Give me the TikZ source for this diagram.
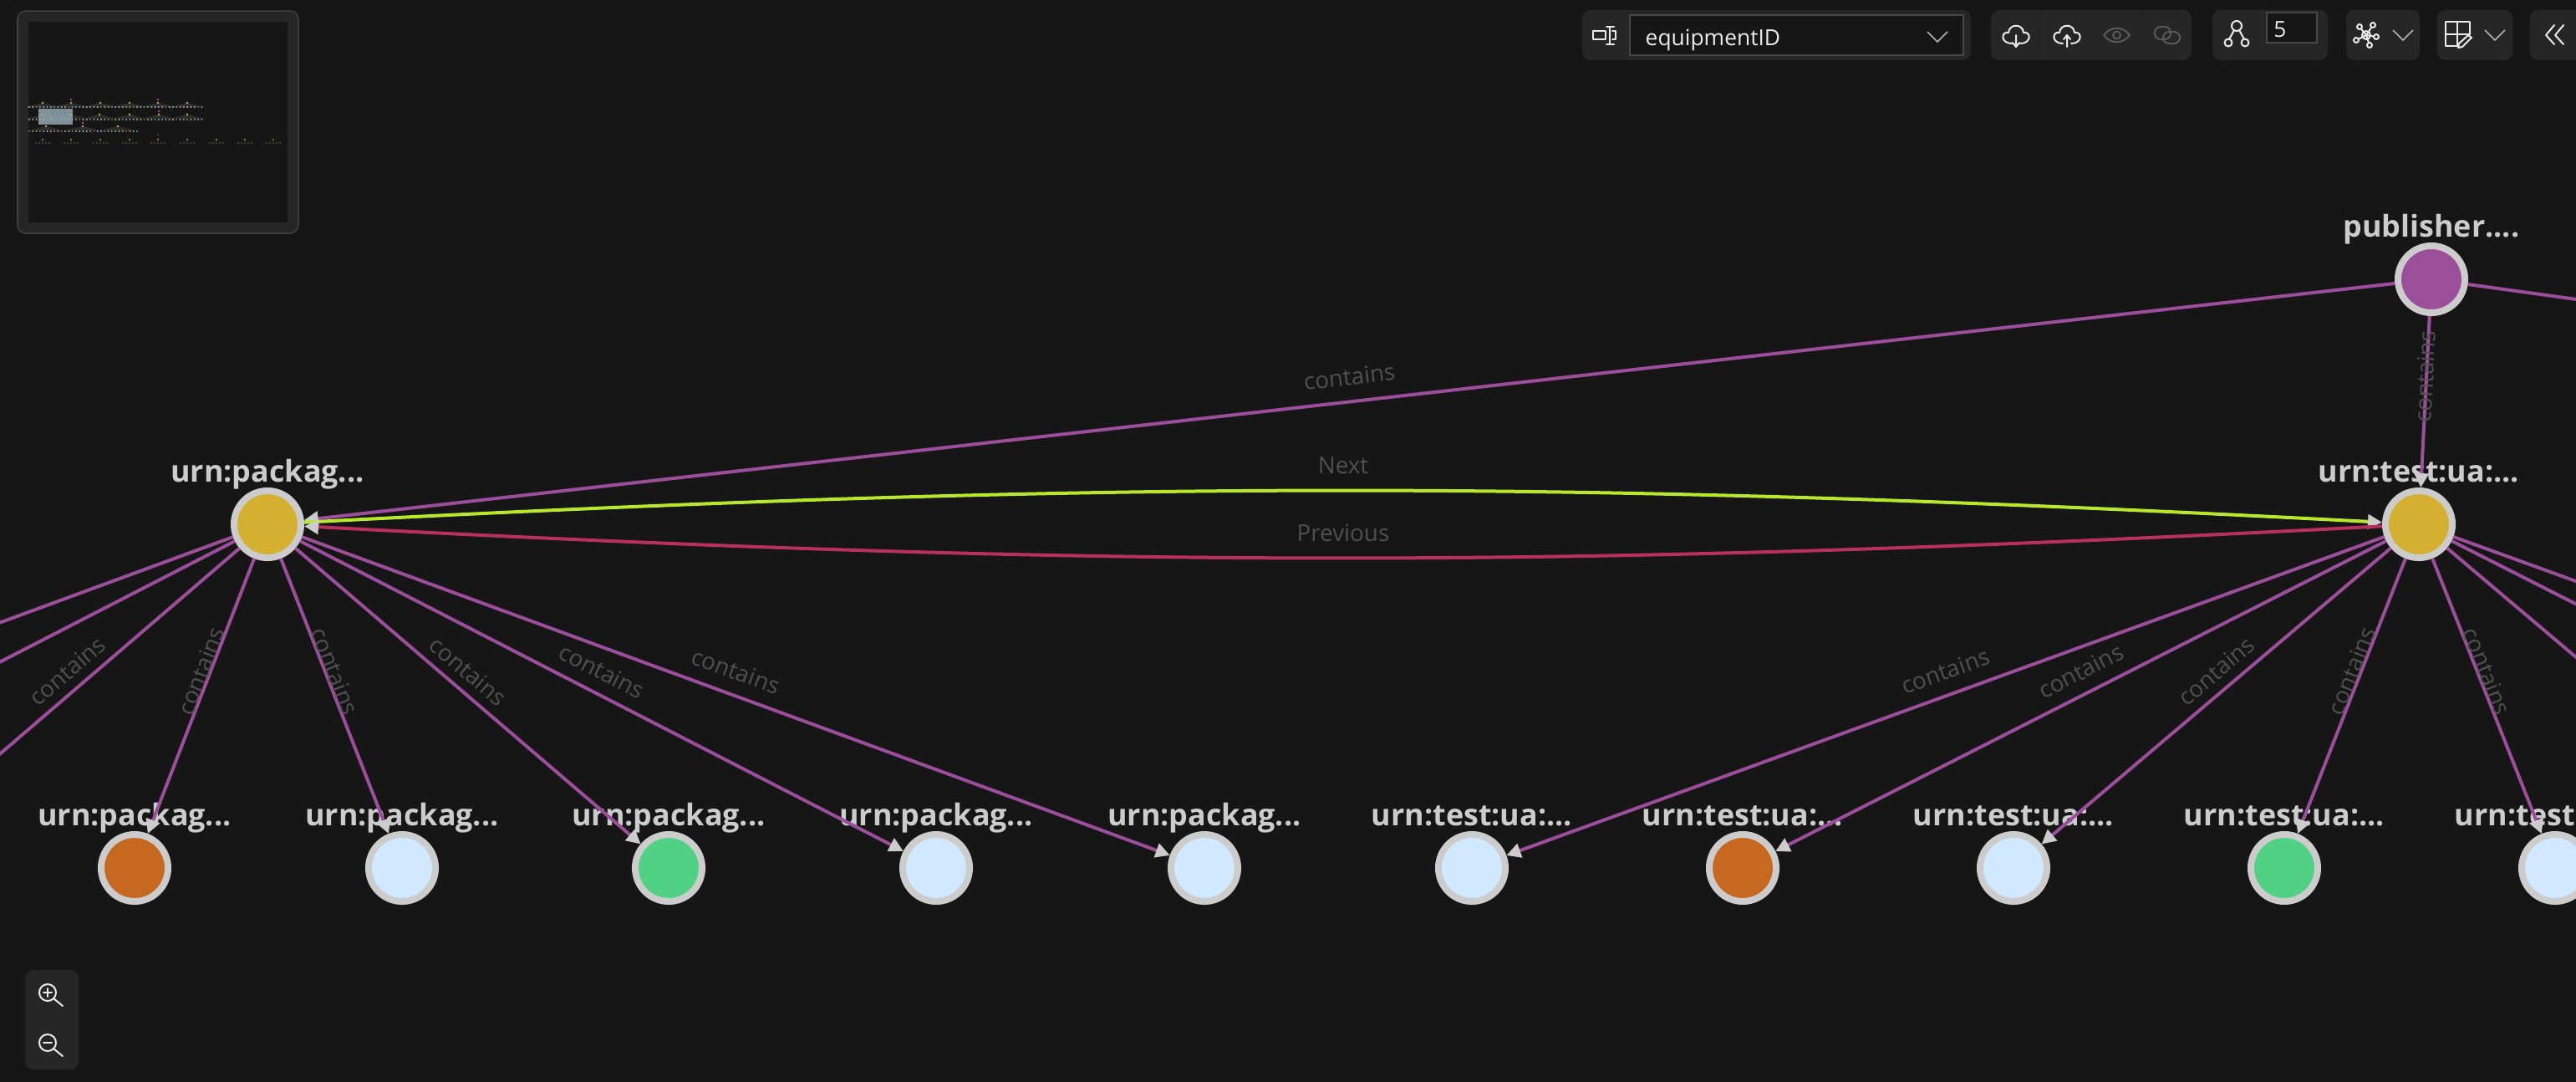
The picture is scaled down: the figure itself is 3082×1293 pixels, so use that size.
\documentclass[tikz,border=0pt]{standalone}
\usepackage{fontspec}
\setmainfont{Open Sans}
\usetikzlibrary{arrows.meta,calc}
\definecolor{canvasbg}{HTML}{161616}
\definecolor{panelbg}{HTML}{262626}
\definecolor{ringgray}{HTML}{CCCCCC}
\definecolor{edgegray}{HTML}{505050}
\definecolor{goldfill}{HTML}{D4AF30}
\definecolor{orangefill}{HTML}{C6681F}
\definecolor{skyfill}{HTML}{D0E9FF}
\definecolor{greenfill}{HTML}{50D184}
\definecolor{plumfill}{HTML}{9B4F9A}
\definecolor{limeline}{HTML}{B8E82C}
\definecolor{roseline}{HTML}{B8305F}
\definecolor{viewbox}{HTML}{93A6AF}
\newcommand{\pkgname}{urn:packag...}
\newcommand{\tstname}{urn:test:ua:...}
\tikzset{
 graphnode/.style={circle,draw=ringgray,line width=.08cm,minimum size=.8cm,inner sep=0pt},
 namelbl/.style={inner sep=0pt,outer sep=0pt,text=ringgray,font=\bfseries\fontsize{10.2}{12}\selectfont,text height=1.5ex,text depth=0pt},
 edgelbl/.style={inner sep=0pt,text=edgegray,font=\fontsize{7.9}{9}\selectfont},
 containsedge/.style={-{Triangle[length=.17cm,width=.17cm,color=ringgray]},plumfill,line width=.04cm},
 nextedge/.style={-{Triangle[length=.17cm,width=.17cm,color=ringgray]},limeline,line width=.04cm},
 prevedge/.style={-{Triangle[length=.17cm,width=.17cm,color=ringgray]},roseline,line width=.04cm},
 panel/.style={fill=panelbg,rounded corners=.1cm},
 toolicon/.style={draw=white!92!black,line width=.02cm,line cap=round,line join=round},
 dimicon/.style={draw=black!65!white,line width=.02cm,line cap=round,line join=round},
 chevron/.style={draw=black!30!white,line width=.015cm}
}
\begin{document}
\begin{tikzpicture}[x=.01cm,y=-.01cm]
\useasboundingbox (0,0) rectangle (3082,1293);
\fill[canvasbg] (-10,-10) rectangle (3092,1303);
\clip (0,0) rectangle (3082,1293);
% graph nodes
\node[graphnode,fill=goldfill,label={[namelbl,label distance=.06cm]above:\pkgname}] (pkg) at (320,627) {};
\node[graphnode,fill=goldfill,label={[namelbl,label distance=.06cm]above:\tstname}] (tst) at (2894,627) {};
\node[graphnode,fill=plumfill,label={[namelbl,label distance=.06cm]above:publisher....}] (pub) at (2909,334) {};
\foreach \nm/\xx/\col/\txt in {p1/161/orangefill/\pkgname,p2/481/skyfill/\pkgname,p3/800/greenfill/\pkgname,p4/1120/skyfill/\pkgname,p5/1441/skyfill/\pkgname,t1/1761/skyfill/\tstname,t2/2085/orangefill/\tstname,t3/2409/skyfill/\tstname,t4/2733/greenfill/\tstname,t5/3057/skyfill/\tstname}
 \node[graphnode,fill=\col,label={[namelbl,label distance=.06cm]above:\txt}] (\nm) at (\xx,1038) {};
% ends outside the view
\coordinate (pm1) at (-159,1038);
\coordinate (pm2) at (-479,1038);
\coordinate (pm3) at (-799,1038);
\coordinate (tr1) at (3380,1038);
\coordinate (tr2) at (3704,1038);
\coordinate (tr3) at (4028,1038);
\coordinate (pubr) at (5030,627);
% edges
\foreach \tgt in {pm3,pm2,pm1,p1,p2,p3,p4,p5}
 \draw[containsedge] (pkg) -- (\tgt);
\foreach \tgt in {t1,t2,t3,t4,t5,tr1,tr2,tr3}
 \draw[containsedge] (tst) -- (\tgt);
\foreach \tgt in {pkg,tst,pubr}
 \draw[containsedge] (pub) -- (\tgt);
\draw[nextedge] (pkg) to[bend left=3] node[edgelbl,midway,yshift=.30cm] {Next} (tst);
\draw[prevedge] (tst) to[bend left=3] node[edgelbl,midway,yshift=.30cm] {Previous} (pkg);
\foreach \src/\tgt in {pkg/pm1,pkg/p1,pkg/p2,pkg/p3,pkg/p4,pkg/p5,tst/t1,tst/t2,tst/t3,tst/t4,tst/t5,pub/pkg,pub/tst}
 \path ($(\src)+(0,-30)$) -- ($(\tgt)+(0,-30)$) node[edgelbl,midway,sloped] {contains};
% minimap
\draw[panel,draw=black!75!white,line width=.015cm] (21,13) rectangle (357,279);
\fill[canvasbg] (34,26) rectangle (344,266);
\foreach \xx/\yy in {51/123,85/123,120/123,155/123,189/123,224/123,51/137,85/137,119/137,155/137,190/137,224/137,55/151,99/151,141/151}{
 \fill[black!82!white] (\xx,\yy) -- (\xx-22,\yy+5) -- (\xx+22,\yy+5) -- cycle;
 \fill[goldfill] (\xx,\yy) circle (1.4);
}
\foreach \xx/\yy in {85/119,189/119,190/133,99/147}
 \fill[plumfill] (\xx,\yy) circle (1.4);
\fill[plumfill!45!canvasbg] (189,161) circle (1.4);
\foreach \yy/\last in {128/48,143/48,157/30}
 \foreach \i in {0,...,\last}{
  \pgfmathtruncatemacro{\mm}{mod(\i+\yy,9)}
  \ifnum\mm=4 \def\dotcol{orangefill}\else\ifnum\mm=7 \def\dotcol{greenfill}\else\def\dotcol{ringgray}\fi\fi
  \fill[\dotcol!90!canvasbg] (35+4.3*\i,\yy) circle (1.05);
 }
\foreach \xx in {51,85,120,155,189,224,259,293,327}{
 \fill[goldfill!65!canvasbg] (\xx,167) circle (1.3);
 \foreach \dd in {-8,-4,0,4,8}
  \fill[ringgray!45!canvasbg] (\xx+\dd,171) circle (.9);
}
\fill[canvasbg] (34,172) rectangle (344,176);
\fill[viewbox,opacity=.85] (46,130) rectangle (87,149);
% zoom buttons
\fill[panel] (30,1160) rectangle (94,1279);
\foreach \yy in {1187,1247}{
 \draw[toolicon] (57,\yy) circle (10) (64,\yy+7) -- (75,\yy+16);
 \draw[toolicon] (52,\yy) -- (62,\yy);
}
\draw[toolicon] (57,1182) -- (57,1192);
% toolbar panels
\fill[panel] (1893,12) rectangle (2358,72);
\fill[panel] (2382,12) rectangle (2622,72);
\fill[panel] (2647,12) rectangle (2785,72);
\fill[panel] (2807,12) rectangle (2895,72);
\fill[panel] (2916,12) rectangle (3006,72);
\fill[panel] (3027,12) rectangle (3120,72);
\draw[canvasbg!60!panelbg,line width=.01cm] (2441,12) -- (2441,72) (2563,12) -- (2563,72);
\draw[fill=canvasbg,draw=black!72!white,line width=.015cm] (1950,18) rectangle (2349,66);
\node[anchor=base west,inner sep=0pt,text=white!92!black,font=\fontsize{7.5}{10}\selectfont] (fieldname) at (1968,54) {equipmentID};
\draw[fill=canvasbg,draw=black!72!white,line width=.015cm] (2712,15) rectangle (2772,51);
\node[anchor=base,inner sep=0pt,text=white!92!black,font=\fontsize{7.5}{9}\selectfont] (hops) at (2728,44) {5};
% chevrons
\foreach \xx/\yy in {2318/44,2875/42,2985/42}
 \draw[chevron] (\xx-12,\yy-6) -- (\xx,\yy+6) -- (\xx+12,\yy-6);
\draw[toolicon] (3056,30) -- (3046,42) -- (3056,53) (3067,30) -- (3057,42) -- (3067,53);
% field icon
\draw[toolicon] (1906,37) rectangle (1921,47);
\draw[toolicon] (1926,32) -- (1926,53) (1922,32) -- (1931,32) (1922,53) -- (1931,53) (1929,37) -- (1933,37) -- (1933,47) -- (1929,47);
% cloud icons
\foreach \xx in {2412,2473}
 \draw[toolicon] (\xx-5,52) .. controls (\xx-19,52) and (\xx-18,37) .. (\xx-9,39) .. controls (\xx-8,28) and (\xx+8,28) .. (\xx+9,39) .. controls (\xx+18,37) and (\xx+19,52) .. (\xx+5,52);
\draw[toolicon] (2412,42) -- (2412,56) (2408,51) -- (2412,56) -- (2416,51);
\draw[toolicon] (2473,42) -- (2473,56) (2469,47) -- (2473,42) -- (2477,47);
% eye and link
\draw[dimicon] (2517,42) .. controls (2525,31) and (2540,31) .. (2548,42) .. controls (2540,53) and (2525,53) .. (2517,42);
\draw[dimicon] (2532.5,42) circle (4.5);
\draw[dimicon,rounded corners=.07cm] (2578,32) rectangle (2597,47) (2588,38) rectangle (2608,52);
% tree icon
\draw[toolicon] (2676,31) circle (6) (2666,51) circle (4.5) (2686,51) circle (4.5);
\draw[toolicon] (2673,36) -- (2667,47) (2679,36) -- (2685,47);
% network icon
\foreach \dx/\dy in {-8/-10,8/-12,12/2,4/12,-12/6}{
 \draw[toolicon] (2831,42) -- (2831+\dx*.7,42+\dy*.7);
 \draw[toolicon] (2831+\dx,42+\dy) circle (3);
}
\draw[toolicon] (2831,42) circle (5);
% layout icon
\draw[toolicon] (2955,41) -- (2955,26) -- (2926,26) -- (2926,55) -- (2939,55) (2940,26) -- (2940,55) (2926,41) -- (2955,41);
\draw[toolicon,fill=panelbg] (2953,42) -- (2957,45) -- (2946,56) -- (2941,57) -- (2942,52) -- cycle;
\end{tikzpicture}
\end{document}
